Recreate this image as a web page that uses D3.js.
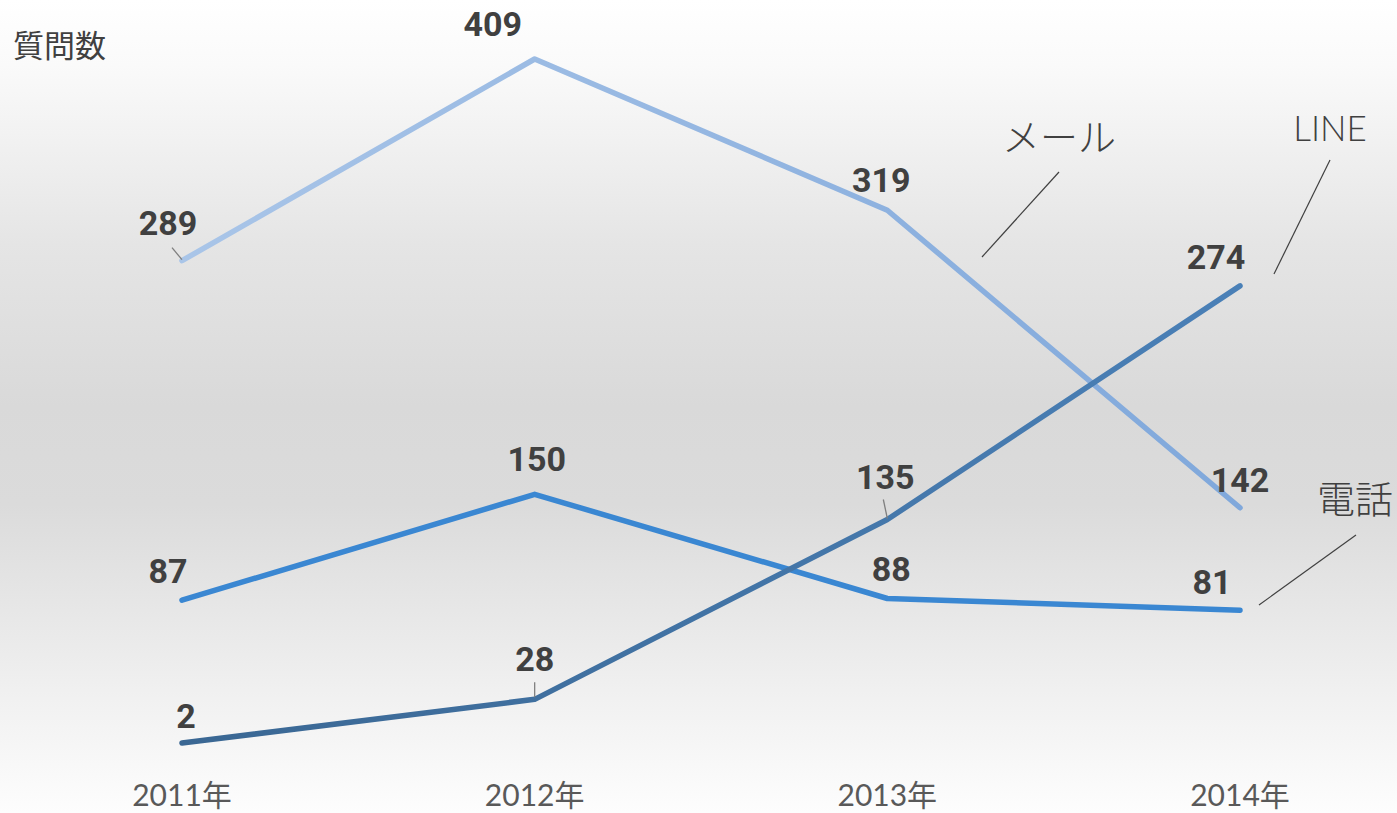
<!DOCTYPE html>
<html>
<head>
<meta charset="utf-8">
<script src="https://cdn.jsdelivr.net/npm/d3@7"></script>
<style>
  body { margin: 0; background: #fff; }
  text { font-family: "Noto Sans CJK JP", "Noto Sans", sans-serif; }
  .num { font-family: Roboto, "Noto Sans", sans-serif; font-weight: 700; font-size: 34px; fill: #404040; text-anchor: middle; }
  .tick { font-family: "Lato", "Noto Sans CJK JP", sans-serif; font-size: 30px; fill: #595959; text-anchor: middle; }
</style>
</head>
<body>
<div id="chart"></div>
<script>
var svgWidth = 1397;
var svgHeight = 813;

// data
var years = ["2011年", "2012年", "2013年", "2014年"];
var mail = [289, 409, 319, 142];
var phone = [87, 150, 88, 81];
var line = [2, 28, 135, 274];
var seriesNames = ["メール", "電話", "LINE"];

var svg = d3.select("#chart").append("svg")
  .attr("width", svgWidth)
  .attr("height", svgHeight);

var defs = svg.append("defs");

// background gradient
var bg = defs.append("linearGradient").attr("id", "bg")
  .attr("x1", 0).attr("y1", 0).attr("x2", 0).attr("y2", 1);
[[0, "#ffffff"], [0.08, "#fafafa"], [0.3, "#e5e5e5"], [0.5, "#d9d9d9"], [0.62, "#dbdbdb"], [0.86, "#f1f1f1"], [1, "#fdfdfd"]]
  .forEach(function(s) { bg.append("stop").attr("offset", s[0]).attr("stop-color", s[1]); });

svg.append("rect").attr("width", svgWidth).attr("height", svgHeight).attr("fill", "url(#bg)");

var x = d3.scalePoint().domain(years).range([182, 1240]);
var y = d3.scaleLinear().domain([0, 409]).range([746.4, 59]);

function lineGrad(id, c1, c2) {
  var g = defs.append("linearGradient").attr("id", id)
    .attr("gradientUnits", "userSpaceOnUse")
    .attr("x1", 182).attr("y1", 0).attr("x2", 1240).attr("y2", 0);
  g.append("stop").attr("offset", 0).attr("stop-color", c1);
  g.append("stop").attr("offset", 1).attr("stop-color", c2);
}
lineGrad("gMail", "#a9c5e8", "#80a8db");
lineGrad("gLine", "#3a6793", "#4a80b7");

var pathGen = d3.line()
  .x(function(d, i) { return x(years[i]); })
  .y(function(d) { return y(d); });

var series = [
  { name: "メール", values: mail, stroke: "url(#gMail)" },
  { name: "電話", values: phone, stroke: "#3a87d2" },
  { name: "LINE", values: line, stroke: "url(#gLine)" }
];

series.forEach(function(s) {
  svg.append("path")
    .datum(s.values)
    .attr("d", pathGen)
    .attr("fill", "none")
    .attr("stroke", s.stroke)
    .attr("stroke-width", 5.5)
    .attr("stroke-linecap", "round")
    .attr("stroke-linejoin", "round");
});

// data labels: offsets relative to point
var labelOffsets = {
  "メール": [[-14, -26], [-42, -23], [-6, -18], [0, -16]],
  "電話": [[-14, -17], [2, -23], [4, -17], [-28, -16]],
  "LINE": [[4, -15], [0, -28], [-2, -31], [-24, -17]]
};
var leaders = {
  "メール": [[-10, -13, 0, -1], null, null, null],
  "LINE": [null, [0, -17, 0, -2], [-4, -20, 0, -1], null]
};

series.forEach(function(s) {
  s.values.forEach(function(v, i) {
    var px = x(years[i]), py = y(v);
    var o = labelOffsets[s.name][i];
    svg.append("text").attr("class", "num")
      .attr("x", px + o[0]).attr("y", py + o[1])
      .text(v);
    var l = leaders[s.name] && leaders[s.name][i];
    if (l) {
      svg.append("line")
        .attr("x1", px + l[0]).attr("y1", py + l[1])
        .attr("x2", px + l[2]).attr("y2", py + l[3])
        .attr("stroke", "#7f7f7f").attr("stroke-width", 1.3);
    }
  });
});

// series labels with leader lines
var nameLabels = [
  { text: seriesNames[0], x: 1059, y: 151, size: 38, lx1: 1059, ly1: 172, lx2: 982, ly2: 257 },
  { text: seriesNames[2], x: 1330, y: 141, size: 35, lx1: 1330, ly1: 160, lx2: 1274, ly2: 274 },
  { text: seriesNames[1], x: 1355, y: 513, size: 38, lx1: 1356, ly1: 535, lx2: 1259, ly2: 605 }
];
nameLabels.forEach(function(n) {
  svg.append("text")
    .attr("x", n.x).attr("y", n.y)
    .attr("text-anchor", "middle")
    .attr("font-size", n.size)
    .attr("font-weight", 300)
    .attr("fill", "#404040")
    .style("font-family", n.text === "LINE" ? "Lato, 'Noto Sans', sans-serif" : "'Noto Sans CJK JP', sans-serif")
    .text(n.text);
  svg.append("line")
    .attr("x1", n.lx1).attr("y1", n.ly1)
    .attr("x2", n.lx2).attr("y2", n.ly2)
    .attr("stroke", "#404040").attr("stroke-width", 1.2);
});

// x axis labels
svg.append("g").selectAll("text")
  .data(years)
  .enter()
  .append("text")
  .attr("class", "tick")
  .attr("x", function(d) { return x(d); })
  .attr("y", 806)
  .text(function(d) { return d; });

// y axis title
svg.append("text")
  .attr("x", 13).attr("y", 57)
  .attr("font-size", 31)
  .attr("font-weight", 400)
  .attr("fill", "#404040")
  .text("質問数");
</script>
</body>
</html>
